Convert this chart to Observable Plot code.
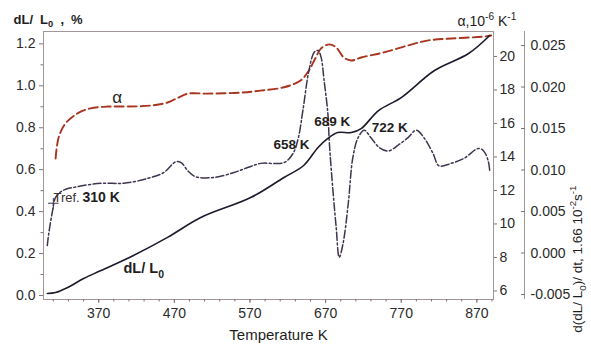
<!DOCTYPE html>
<html><head><meta charset="utf-8">
<script src="https://cdn.jsdelivr.net/npm/d3@7"></script>
<script src="https://cdn.jsdelivr.net/npm/@observablehq/plot@0.6"></script>
<style>
body{margin:0;background:#fff;}
svg [aria-label$="tick label"]{fill:#2a2a2a;}
</style>
</head><body><div id="chart"></div>
<script>
// ---- data ----
const dlTemp  = [302, 313, 329, 350, 373, 416, 461, 505, 571, 615, 641, 660, 673, 686, 704, 717, 740, 770, 814, 859, 887];
const dlValue = [0.0095, 0.014, 0.038, 0.081, 0.119, 0.191, 0.277, 0.372, 0.467, 0.563, 0.620, 0.706, 0.749, 0.777, 0.777, 0.796, 0.882, 0.944, 1.073, 1.154, 1.240];

const alphaTemp  = [313, 317, 326, 342, 359, 382, 408, 439, 461, 475, 488, 514, 558, 584, 615, 637, 648, 657, 664, 675, 684, 694, 704, 717, 747, 779, 806, 836, 880, 889];
const alphaValue = [13.91, 15.16, 16.0, 16.6, 16.9, 17.01, 17.01, 17.07, 17.25, 17.54, 17.78, 17.78, 17.84, 17.96, 18.16, 18.57, 19.16, 19.94, 20.48, 20.72, 20.54, 19.94, 19.76, 19.94, 20.24, 20.66, 20.96, 21.07, 21.19, 21.25];

const rateTemp  = [302, 304, 309, 313, 322, 342, 373, 403, 435, 456, 472, 479, 488, 498, 522, 549, 567, 584, 615, 627, 634, 640, 648, 655, 660, 664, 668, 673, 675, 680, 684, 688, 693, 700, 706, 713, 721, 730, 741, 753, 766, 779, 790, 800, 812, 820, 836, 853, 872, 879, 885, 887];
const rateValue = [0.0009, 0.0024, 0.0051, 0.0067, 0.0075, 0.0080, 0.0084, 0.0084, 0.0090, 0.0097, 0.0110, 0.0109, 0.0099, 0.0092, 0.0091, 0.0097, 0.0103, 0.0108, 0.0109, 0.0120, 0.0139, 0.0172, 0.0220, 0.0242, 0.0244, 0.0236, 0.0208, 0.0168, 0.0132, 0.0072, 0.0031, -0.0005, 0.0011, 0.0060, 0.0115, 0.0139, 0.0148, 0.0139, 0.0127, 0.0123, 0.0130, 0.0139, 0.0148, 0.0139, 0.0120, 0.0105, 0.0108, 0.0114, 0.0126, 0.0123, 0.0111, 0.0099];

const xTicks = [370, 470, 570, 670, 770, 870];
const xMinorTicks = d3.range(310, 891, 20);
const leftTicks = [0, 0.2, 0.4, 0.6, 0.8, 1.0, 1.2];
const leftMinorTicks = [0.1, 0.3, 0.5, 0.7, 0.9, 1.1];
const alphaTicks = [6, 8, 10, 12, 14, 16, 18, 20];
const rateTicks = [-0.005, 0, 0.005, 0.010, 0.015, 0.020, 0.025];

// axis ranges
const xDomain = [297, 892];
const leftDomain = [-0.019, 1.259];
const alphaDomain = [5.49, 21.49];
const rateDomain = [-0.0056, 0.02669];

const annotations = [
  {label: "658 K", T: 601, v: 0.701},
  {label: "689 K", T: 655, v: 0.806},
  {label: "722 K", T: 731, v: 0.782}
];
const trefPoint = [{T: 310, v: 0.44}];

// ---- build tables ----
const alphaToY = d3.scaleLinear(alphaDomain, leftDomain);
const rateToY = d3.scaleLinear(rateDomain, leftDomain);
const dlData = dlTemp.map((T, i) => ({T, y: dlValue[i]}));
const alphaData = alphaTemp.map((T, i) => ({T, y: alphaToY(alphaValue[i])}));
const rateData = rateTemp.map((T, i) => ({T, y: rateToY(rateValue[i])}));

const frameColor = "#a39696";
const tickColor = "#7a7474";
const ink = "#1e1e1e";
const red = "#a9341f";
const purple = "#3f3450";

const plot = Plot.plot({
  width: 591, height: 347,
  marginLeft: 43, marginRight: 98, marginTop: 31, marginBottom: 48,
  x: {domain: xDomain},
  y: {domain: leftDomain},
  style: {fontFamily: "'Liberation Sans', Arial, sans-serif", fontSize: "14px", background: "#fff", color: ink},
  marks: [
    Plot.frame({stroke: frameColor}),
    Plot.ruleX([xDomain[1]], {dx: 31, stroke: frameColor}),
    Plot.axisX(xMinorTicks, {tickSize: 2.5, tickFormat: () => "", label: null, color: tickColor}),
    Plot.axisX(xTicks, {tickSize: 4, tickPadding: 5, label: null, color: tickColor, fontSize: 14}),
    Plot.axisY(leftMinorTicks, {anchor: "left", tickSize: 2.5, tickFormat: () => "", label: null, color: tickColor}),
    Plot.axisY(leftTicks, {anchor: "left", tickSize: 4, tickPadding: 4, tickFormat: d => d.toFixed(1), label: null, color: tickColor, fontSize: 14}),
    Plot.axisY(alphaTicks.map(v => alphaToY(v)), {anchor: "right", tickSize: 3, tickPadding: 3, tickFormat: d => String(Math.round(alphaToY.invert(d))), label: null, color: tickColor, fontSize: 14}),
    Plot.axisY(rateTicks.map(v => rateToY(v)), {anchor: "right", dx: 31, tickSize: -4, tickPadding: 10, tickFormat: d => (Math.round(rateToY.invert(d) * 1000) / 1000).toFixed(3), label: null, color: tickColor, fontSize: 14}),

    Plot.line(alphaData, {x: "T", y: "y", stroke: red, strokeWidth: 1.9, strokeDasharray: "9,4", curve: "catmull-rom"}),
    Plot.line(rateData, {x: "T", y: "y", stroke: purple, strokeWidth: 1.5, strokeDasharray: "8,2.5,2,2.5", curve: "catmull-rom"}),
    Plot.line(dlData, {x: "T", y: "y", stroke: "#1c1a2c", strokeWidth: 1.6, curve: "catmull-rom"}),
    Plot.dot(trefPoint, {x: "T", y: "v", symbol: "plus", r: 3.5, stroke: purple, strokeWidth: 1}),

    Plot.text(annotations, {x: "T", y: "v", text: "label", textAnchor: "start", lineAnchor: "bottom", fontSize: 13.5, fontWeight: "bold", fill: ink}),
    Plot.text([{T: 388, v: 0.916}], {x: "T", y: "v", text: () => "α", textAnchor: "start", lineAnchor: "bottom", fontSize: 17, fill: ink}),
    Plot.text([{T: 310.2, v: 0.444}], {x: "T", y: "v", text: () => "Tref.", textAnchor: "start", lineAnchor: "bottom", fontSize: 13, fill: "#3a3030"}),
    Plot.text([{T: 348.6, v: 0.444}], {x: "T", y: "v", text: () => "310 K", textAnchor: "start", lineAnchor: "bottom", fontSize: 14, fontWeight: "bold", fill: ink}),
    Plot.text([{T: 402.8, v: 0.105}], {x: "T", y: "v", text: () => "dL/ L_{0}", textAnchor: "start", lineAnchor: "bottom", fontSize: 14.5, fontWeight: "bold", fill: ink}),

    Plot.text(["dL/ L_{0} , %"], {frameAnchor: "top-left", dx: -30, dy: -8, textAnchor: "start", lineAnchor: "bottom", fontSize: 13, fontWeight: "bold", fill: ink}),
    Plot.text(["α,10^{-6} K^{-1}"], {frameAnchor: "top-right", dx: -36, dy: -6, textAnchor: "start", lineAnchor: "bottom", fontSize: 14, fill: ink}),
    Plot.text(["d(dL/ L_{0})/ dt, 1.66 10^{-2}s^{-1}"], {frameAnchor: "right", rotate: -90, dx: 88, dy: 20, lineAnchor: "bottom", fontSize: 13.5, fill: ink}),
    Plot.text(["Temperature K"], {frameAnchor: "bottom", dx: 10, dy: 40, lineAnchor: "bottom", fontSize: 15, fill: ink})
  ]
});

document.getElementById("chart").appendChild(plot);

// sub/superscripts as tspans
const NS = "http://www.w3.org/2000/svg";
plot.querySelectorAll("text").forEach(t => {
  const s = t.textContent;
  if (!/[_^]\{/.test(s)) return;
  const fs = parseFloat(getComputedStyle(t).fontSize) || 14;
  const parts = s.split(/([_^]\{[^}]*\})/).filter(p => p !== "");
  t.textContent = "";
  if (s.endsWith(", %")) t.setAttribute("word-spacing", "3.5");
  let offset = 0;
  for (const p of parts) {
    const ts = document.createElementNS(NS, "tspan");
    let target = 0, txt = p, small = false;
    if (p.startsWith("_{")) { target = 0.3 * fs; txt = p.slice(2, -1); small = true; }
    else if (p.startsWith("^{")) { target = -0.42 * fs; txt = p.slice(2, -1); small = true; }
    if (target !== offset) ts.setAttribute("dy", (target - offset).toFixed(2));
    offset = target;
    if (small) ts.setAttribute("font-size", (0.72 * fs).toFixed(1));
    ts.textContent = txt;
    t.appendChild(ts);
  }
});
</script>
</body></html>
